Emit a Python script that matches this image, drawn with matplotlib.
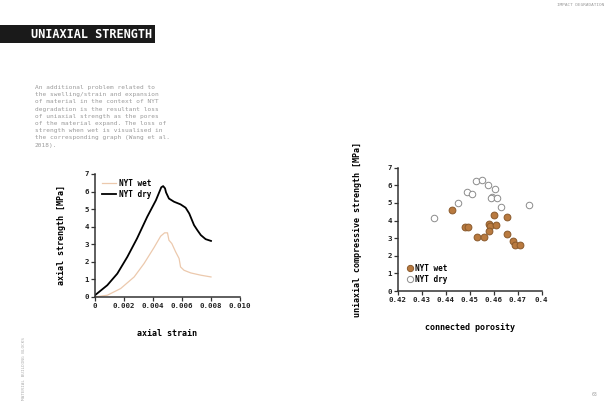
import matplotlib
matplotlib.use("Agg")
import matplotlib.pyplot as plt
from matplotlib.patches import Rectangle
from matplotlib.lines import Line2D

# ---- data ----
dry_strain = [0.0, 0.00085, 0.00154, 0.00223, 0.0029, 0.0036, 0.0042, 0.00457, 0.0047,
              0.00483, 0.0049, 0.0051, 0.00545, 0.0059, 0.00625, 0.0065, 0.00683, 0.00706,
              0.0073, 0.00763, 0.0080]
dry_stress = [0.1, 0.67, 1.33, 2.28, 3.33, 4.56, 5.5, 6.24, 6.31,
              6.18, 5.95, 5.6, 5.42, 5.27, 5.08, 4.75, 4.09, 3.8,
              3.52, 3.29, 3.19]
wet_strain = [0.0, 0.00085, 0.00177, 0.0027, 0.00338, 0.00407, 0.00453, 0.0048, 0.005,
              0.0051, 0.0053, 0.00556, 0.0058, 0.0059, 0.00614, 0.0066, 0.0073, 0.008]
wet_stress = [0.0, 0.1, 0.48, 1.14, 1.9, 2.81, 3.46, 3.65, 3.65,
              3.23, 3.04, 2.57, 2.19, 1.71, 1.52, 1.37, 1.24, 1.14]

dry_porosity = [0.4351, 0.4451, 0.4490, 0.4508, 0.4525, 0.4550, 0.4575, 0.4606, 0.4591,
                0.4588, 0.4613, 0.4630, 0.4746]
dry_ucs = [4.12, 4.98, 5.6, 5.49, 6.24, 6.28, 6.02, 5.79, 5.35, 5.26, 5.28, 4.75, 4.88]
wet_porosity = [0.4425, 0.4480, 0.4494, 0.4530, 0.4557, 0.4579, 0.4584, 0.4581, 0.4602,
                0.4611, 0.4655, 0.4654, 0.4682, 0.4687, 0.4711]
wet_ucs = [4.58, 3.63, 3.63, 3.08, 3.08, 3.82, 3.69, 3.42, 4.31, 3.73, 4.18, 3.25, 2.86,
           2.61, 2.61]

left_xticks = [0, 0.002, 0.004, 0.006, 0.008, 0.010]
left_xticklabels = ["0", "0.002", "0.004", "0.006", "0.008", "0.010"]
right_xticks = [0.42, 0.43, 0.44, 0.45, 0.46, 0.47, 0.48]
right_xticklabels = ["0.42", "0.43", "0.44", "0.45", "0.46", "0.47", "0.4"]
yticks = [0, 1, 2, 3, 4, 5, 6, 7]

paragraph = ("An additional problem related to\n"
             "the swelling/strain and expansion\n"
             "of material in the context of NYT\n"
             "degradation is the resultant loss\n"
             "of uniaxial strength as the pores\n"
             "of the material expand. The loss of\n"
             "strength when wet is visualised in\n"
             "the corresponding graph (Wang et al.\n"
             "2018).")

MONO = "DejaVu Sans Mono"
WET_LINE = "#ecc9ad"
WET_FILL = "#b97a3f"
WET_EDGE = "#8a5a2c"
DRY_EDGE = "#8c8c8c"
AX = "#333333"

fig = plt.figure(figsize=(6.16, 4.2), dpi=100)
fig.patch.set_facecolor("white")

def style(ax):
    for s in ["top", "right"]:
        ax.spines[s].set_visible(False)
    for s in ["left", "bottom"]:
        ax.spines[s].set_color(AX)
        ax.spines[s].set_linewidth(1.1)
    ax.tick_params(direction="out", length=3, width=0.9, color=AX, labelsize=5.3,
                   pad=1.5, labelcolor="#222222")
    for lab in ax.get_xticklabels() + ax.get_yticklabels():
        lab.set_fontfamily(MONO)
        lab.set_fontweight("bold")

# ---- left chart ----
axL = fig.add_axes([0.1542, 0.2929, 0.2354, 0.2929])
axL.plot(wet_strain, wet_stress, color=WET_LINE, lw=0.9, label="NYT wet")
axL.plot(dry_strain, dry_stress, color="black", lw=1.3, label="NYT dry")
axL.set_xlim(0, 0.010)
axL.set_ylim(0, 7)
axL.set_xticks(left_xticks)
axL.set_xticklabels(left_xticklabels)
axL.set_yticks(yticks)
style(axL)
axL.set_xlabel("axial strain", fontfamily=MONO, fontweight="bold", fontsize=6, labelpad=14)
axL.set_ylabel("axial strength [MPa]", fontfamily=MONO, fontweight="bold", fontsize=6, labelpad=13)
axL.legend(loc="upper left", bbox_to_anchor=(0.02, 1.0), frameon=False,
           prop={"family": MONO, "weight": "bold", "size": 5.5},
           handlelength=1.8, handletextpad=0.3, labelspacing=0.3, borderaxespad=0.2)

# ---- right chart ----
axR = fig.add_axes([0.6461, 0.3071, 0.2333, 0.2936])
axR.scatter(dry_porosity, dry_ucs, s=22, facecolor="white", edgecolor=DRY_EDGE,
            linewidth=0.7, label="NYT dry", zorder=3)
axR.scatter(wet_porosity, wet_ucs, s=24, facecolor=WET_FILL, edgecolor=WET_EDGE,
            linewidth=0.7, label="NYT wet", zorder=3)
axR.set_xlim(0.42, 0.48)
axR.set_ylim(0, 7)
axR.set_xticks(right_xticks)
axR.set_xticklabels(right_xticklabels)
axR.set_yticks(yticks)
style(axR)
axR.set_xlabel("connected porosity", fontfamily=MONO, fontweight="bold", fontsize=6, labelpad=14)
axR.set_ylabel("uniaxial compressive strength [MPa]", fontfamily=MONO, fontweight="bold",
               fontsize=6, labelpad=18)
hR = [Line2D([], [], marker="o", ls="", markersize=4.5, markerfacecolor=WET_FILL,
             markeredgecolor=WET_EDGE, markeredgewidth=0.7),
      Line2D([], [], marker="o", ls="", markersize=4.5, markerfacecolor="white",
             markeredgecolor=DRY_EDGE, markeredgewidth=0.7)]
axR.legend(hR, ["NYT wet", "NYT dry"], loc="lower left", bbox_to_anchor=(0.03, 0.02),
           frameon=False, prop={"family": MONO, "weight": "bold", "size": 5.5},
           handlelength=0.8, handletextpad=0.3, labelspacing=0.25, borderaxespad=0.2)

# ---- page decorations ----
fig.patches.append(Rectangle((0, 1 - 43 / 420), 155 / 616, 18 / 420, transform=fig.transFigure,
                             facecolor="#1a1a1a", edgecolor="none"))
fig.text(152 / 616, 1 - 34 / 420, "UNIAXIAL STRENGTH", ha="right", va="center", color="white",
         fontfamily=MONO, fontweight="bold", fontsize=8.6)
fig.text(35 / 616, 1 - 85 / 420, paragraph, ha="left", va="top", color="#9a9a9a",
         fontfamily=MONO, fontsize=4.4, linespacing=1.55)
fig.text(604 / 616, 1 - 5 / 420, "IMPACT DEGRADATION", ha="right", va="center",
         color="#9a9a9a", fontfamily=MONO, fontsize=3.2)
fig.text(24 / 616, 1 - 368 / 420, "MATERIAL BUILDING BLOCKS", ha="center", va="center",
         rotation=90, color="#b0b0b0", fontfamily=MONO, fontsize=3.2)
fig.text(594 / 616, 1 - 395 / 420, "63", ha="center", va="center", color="#a0a0a0",
         fontfamily=MONO, fontsize=3.5)

fig.savefig("out.png", dpi=100, facecolor="white")
